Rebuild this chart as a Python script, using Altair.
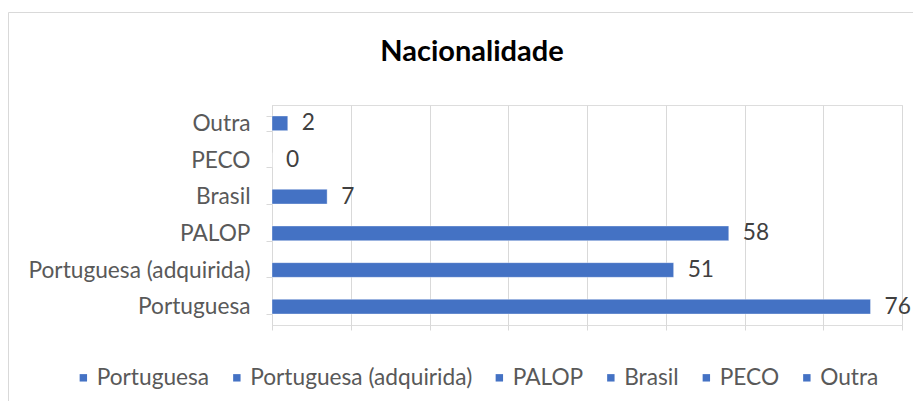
import altair as alt
import pandas as pd

categories = ["Portuguesa", "Portuguesa (adquirida)", "PALOP", "Brasil", "PECO", "Outra"]
values = [76, 51, 58, 7, 0, 2]
y_order = ["Outra", "PECO", "Brasil", "PALOP", "Portuguesa (adquirida)", "Portuguesa"]
x_ticks = [0, 10, 20, 30, 40, 50, 60, 70, 80]

BLUE = "#4472C4"
GRID = "#d9d9d9"
TXT = "#595959"
FONT = "Lato"
FS = 22.7

df = pd.DataFrame({"cat": categories, "val": values})

y_enc = alt.Y(
    "cat:N",
    sort=y_order,
    title=None,
    scale=alt.Scale(paddingInner=0.6, paddingOuter=0.3),
    axis=alt.Axis(
        tickBand="extent",
        tickSize=6,
        tickColor=GRID,
        domainColor=GRID,
        labelPadding=16,
        labelFontSize=FS,
        labelColor=TXT,
        labelFont=FONT,
        labelLimit=0,
        grid=False,
    ),
)
x_enc = alt.X(
    "val:Q",
    title=None,
    scale=alt.Scale(domain=[0, 80], nice=False),
    axis=alt.Axis(
        values=x_ticks,
        labels=False,
        domain=False,
        grid=True,
        gridColor=GRID,
        tickColor=GRID,
        tickSize=5,
    ),
)

border = alt.Chart(pd.DataFrame({"b": [0]})).mark_rect(
    fill=None, stroke=GRID, strokeWidth=1, clip=False
).encode(
    x=alt.value(-263.5), x2=alt.value(700), y=alt.value(-92.5), y2=alt.value(400)
)

bars = alt.Chart(df).mark_bar(stroke="#ffffff", strokeOpacity=0.35, strokeWidth=1).encode(
    x=x_enc,
    y=y_enc,
    color=alt.Color(
        "cat:N",
        scale=alt.Scale(domain=categories, range=[BLUE] * len(categories)),
        legend=alt.Legend(
            title=None,
            orient="none",
            direction="horizontal",
            legendX=-200,
            legendY=261,
            symbolType="square",
            symbolSize=55,
            symbolStrokeWidth=0,
            labelFontSize=FS,
            labelFont=FONT,
            labelColor=TXT,
            labelLimit=0,
            labelOffset=2,
            columnPadding=15.5,
            columns=6,
        ),
    ),
)

labels = alt.Chart(df).mark_text(
    align="left", baseline="middle", dx=14, fontSize=FS, font=FONT, color="#404040"
).encode(x="val:Q", y=alt.Y("cat:N", sort=y_order), text="val:Q")

chart = alt.layer(border, bars, labels).properties(
    width=630,
    height=220,
    padding={"left": 264, "top": 97, "right": 11, "bottom": 76},
    autosize=alt.AutoSizeParams(type="none"),
    title=alt.Title(
        "Nacionalidade",
        fontSize=29,
        font=FONT,
        fontWeight="bold",
        color="#000000",
        anchor="middle",
        baseline="alphabetic",
        dx=-115,
        offset=-78,
    ),
).configure_view(stroke=None).configure(background="white")

chart.save("out.html", embed_options={"renderer": "svg", "actions": False})
